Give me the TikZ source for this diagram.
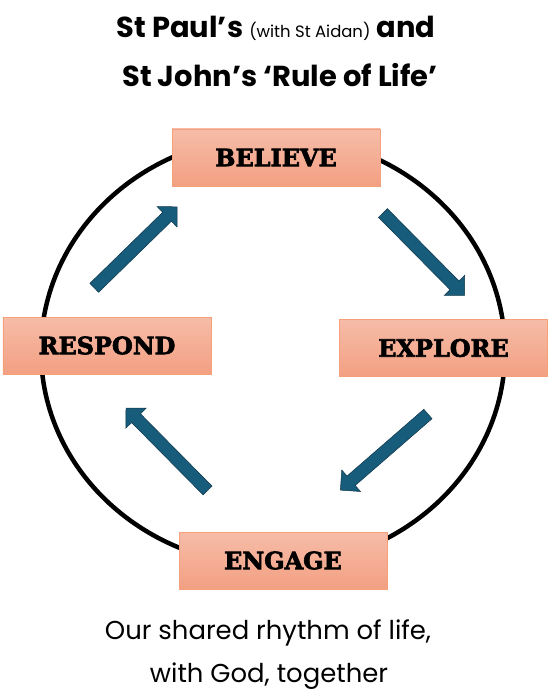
\documentclass[tikz,border=0pt]{standalone}
\usepackage{fontspec}
\setmainfont{Poppins}
\newfontfamily\slabfont[FakeBold=2.6]{DejaVu Serif Bold}
\usepackage{tikz}
\usetikzlibrary{shapes.arrows}
\definecolor{cBoxTop}{RGB}{246,188,168}
\definecolor{cBoxBot}{RGB}{243,160,130}
\definecolor{cBoxLine}{RGB}{245,160,122}
\definecolor{cTurn}{RGB}{24,92,124}
\definecolor{cTurnLine}{RGB}{14,52,72}
\tikzset{
  stage/.style ={rectangle,draw=cBoxLine,line width=0.8pt,top color=cBoxTop,
                 bottom color=cBoxBot,minimum width=208bp,minimum height=57bp,
                 inner sep=0pt,font=\slabfont\fontsize{24}{28}\selectfont},
  turn/.style  ={single arrow,draw=cTurnLine,fill=cTurn,line width=0.5pt,
                 minimum height=116bp,minimum width=28bp,inner sep=6bp,
                 single arrow head extend=8bp,single arrow tip angle=90},
  ttl/.style   ={anchor=base,font=\fontsize{29}{34}\selectfont\bfseries},
  foot/.style  ={anchor=base,font=\fontsize{26}{32}\selectfont},
}

\begin{document}
\begin{tikzpicture}[x=1bp,y=-1bp]
\useasboundingbox (0,0) rectangle (550,691);

% ===== title ============================================================
\node[ttl] (ttl1) at (276,38)
  {St Paul’s {\fontsize{16.5}{18}\selectfont\mdseries(with St Aidan)} and};
\node[ttl] (ttl2) at (280,87) {St John’s ‘Rule of Life’};

% ===== cycle ============================================================
\draw[line width=4.5bp] (273,351) ellipse [x radius=232bp, y radius=215bp];

\node[stage] (bel) at (276,157.5) {BELIEVE};
\node[stage] (exp) at (443.5,348) {EXPLORE};
\node[stage] (eng) at (283,560.5) {ENGAGE};
\node[stage] (res) at (107,345.5) {RESPOND};

% fat arrows between the stages
\node[turn,rotate=44.3]  (t1) at (133.5,249.5) {};
\node[turn,rotate=-45.3] (t2) at (421.5,252)   {};
\node[turn,rotate=221]   (t3) at (386.5,450)   {};
\node[turn,rotate=134.7] (t4) at (169,451.5)   {};

% ===== footer ===========================================================
\node[foot] (ft1) at (268,639) {Our shared rhythm of life,};
\node[foot] (ft2) at (269,682) {with God, together};
\end{tikzpicture}
\end{document}
